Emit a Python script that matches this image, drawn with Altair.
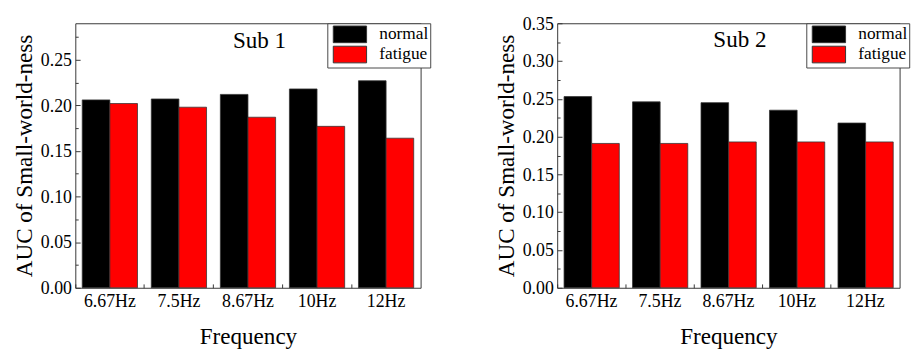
import altair as alt
import pandas as pd

freqs = ["6.67Hz", "7.5Hz", "8.67Hz", "10Hz", "12Hz"]
conditions = ["normal", "fatigue"]
sub1_normal = [0.206, 0.207, 0.212, 0.218, 0.227]
sub1_fatigue = [0.202, 0.198, 0.187, 0.177, 0.164]
sub2_normal = [0.253, 0.246, 0.245, 0.235, 0.218]
sub2_fatigue = [0.191, 0.191, 0.193, 0.193, 0.193]

FONT = "Times New Roman, Liberation Serif, serif"
PLOT_H = 275


def panel(normal, fatigue, title, ymax, width, title_offset):
    rows = []
    for f, n, g in zip(freqs, normal, fatigue):
        rows.append({"freq": f, "cond": "normal", "value": n})
        rows.append({"freq": f, "cond": "fatigue", "value": g})
    df = pd.DataFrame(rows)
    base = alt.Chart(df)
    n_major = int(round(ymax / 0.05 + 1e-9))
    major = [round(0.05 * i, 2) for i in range(n_major + 1)]
    minor = [round(0.025 + 0.05 * i, 3) for i in range(n_major + 1) if 0.025 + 0.05 * i < ymax]
    xscale = alt.Scale(paddingInner=0.2, paddingOuter=0.1)
    yscale = alt.Scale(domain=[0, ymax], nice=False, zero=True)
    xoff = alt.XOffset("cond:N", sort=conditions, scale=alt.Scale(paddingInner=0, paddingOuter=0))

    def X(axis):
        return alt.X("freq:N", sort=freqs, scale=xscale, axis=axis)

    def Y(axis):
        return alt.Y("value:Q", scale=yscale, axis=axis)

    bars = base.mark_bar(stroke="#333333", strokeWidth=0.8).encode(
        x=X(alt.Axis(title="Frequency", labelAngle=0, ticks=False, domain=False,
                     labelPadding=5, titlePadding=15)),
        xOffset=xoff,
        y=Y(alt.Axis(title="AUC of Small-world-ness", values=major, format=".2f",
                     ticks=False, domain=False, labelPadding=4, titlePadding=4)),
        color=alt.Color("cond:N", sort=conditions,
                        scale=alt.Scale(domain=conditions, range=["#000000", "#ff0000"]),
                        legend=alt.Legend(title=None, orient="none", legendX=width - 97, legendY=0,
                                          padding=2, rowPadding=-3,
                                          symbolType="M-2,-1H2V1H-2Z", symbolSize=300,
                                          symbolOffset=12, labelOffset=21,
                                          symbolStrokeColor="#333333", symbolStrokeWidth=1,
                                          labelFont=FONT, labelFontSize=18, labelColor="#000000",
                                          strokeColor="#444444", fillColor="#ffffff")),
    )
    ytick_major = base.mark_bar(opacity=0).encode(
        x=X(None), xOffset=xoff,
        y=Y(alt.Axis(orient="right", offset=-width, values=major, labels=False,
                     domain=False, tickSize=5, title=None, tickColor="#333333")),
    )
    ytick_minor = base.mark_bar(opacity=0).encode(
        x=X(None), xOffset=xoff,
        y=Y(alt.Axis(orient="right", offset=-width, values=minor, labels=False,
                     domain=False, tickSize=3, title=None, tickColor="#333333")),
    )
    xtick = base.mark_bar(opacity=0).encode(
        x=X(alt.Axis(orient="top", offset=-PLOT_H, labels=False, domain=False,
                     bandPosition=-0.125, tickSize=4, title=None, tickColor="#333333")),
        xOffset=xoff,
        y=Y(None),
    )
    return alt.layer(bars, ytick_major, ytick_minor, xtick).resolve_axis(
        x="independent", y="independent"
    ).properties(
        width=width, height=PLOT_H,
        title=alt.TitleParams(title, font=FONT, fontSize=24, fontWeight="normal", color="#000000",
                              anchor="middle", frame="group", offset=title_offset, dx=12),
    )


left = panel(sub1_normal, sub1_fatigue, "Sub 1", 0.29, 359, -31)
right = panel(sub2_normal, sub2_fatigue, "Sub 2", 0.35, 356, -39)

chart = alt.hconcat(left, right, spacing=66).resolve_legend(
    color="independent"
).configure_view(
    stroke="#333333", strokeWidth=1
).configure_axis(
    labelFont=FONT, labelFontSize=18.5, labelColor="#000000",
    titleFont=FONT, titleFontSize=24, titleFontWeight="normal", titleColor="#000000",
    grid=False,
).properties(padding={"left": 5, "top": -1, "right": 5, "bottom": 0})

chart.save("out.html", embed_options={"renderer": "svg", "actions": False})
